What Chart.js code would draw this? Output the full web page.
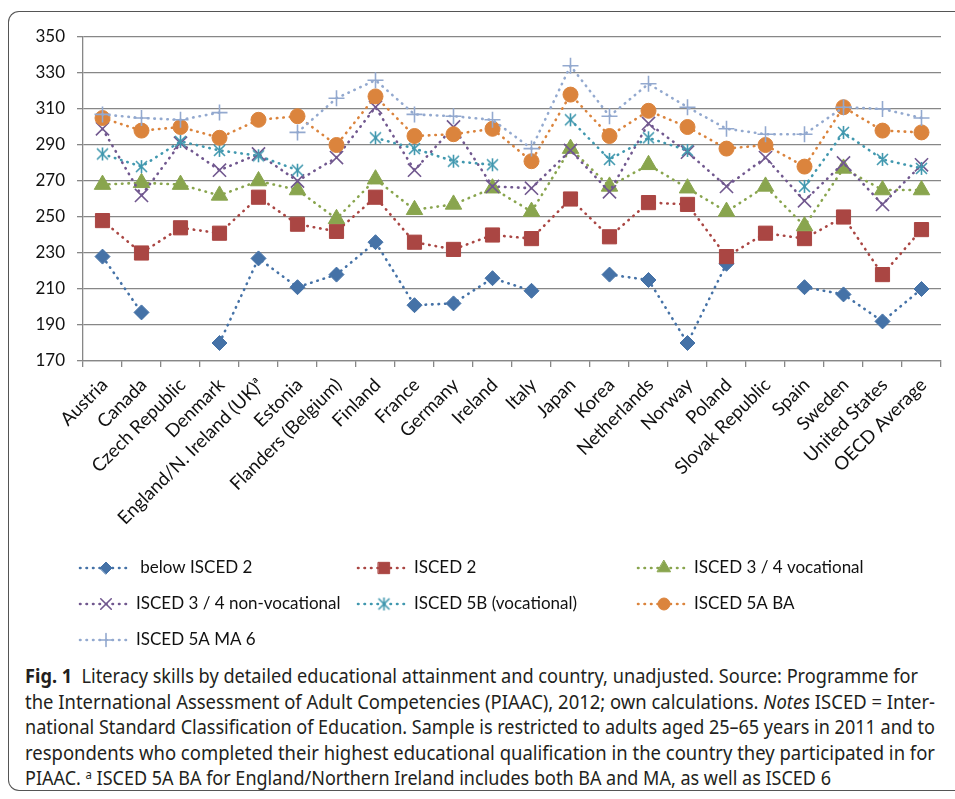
<!DOCTYPE html>
<html>
<head>
<meta charset="utf-8">
<script src="https://cdn.jsdelivr.net/npm/chart.js@4.4.1/dist/chart.umd.min.js"></script>
<style>
  html, body { margin: 0; padding: 0; background: #fff; }
  body { width: 955px; height: 799px; position: relative; overflow: hidden; }
  #frame { position: absolute; left: 8px; top: 11px; width: 1000px; height: 778px;
           border: 1.3px solid #555; border-right: none; border-radius: 11px 0 0 11px; }
  #wrap { position: absolute; left: 0; top: 0; width: 955px; height: 660px; }
  #caption { position: absolute; left: 25px; top: 664px; color: #231f20;
             font-family: "Noto Sans", "Open Sans", sans-serif; font-size: 19px; line-height: 25.5px; }
  #caption .ln { display: block; white-space: nowrap; transform-origin: 0 50%; width: max-content; }
  #caption sup { font-size: 12px; line-height: 0; vertical-align: 6px; }
</style>
</head>
<body>
<div id="frame"></div>
<div id="wrap"><canvas id="chart" width="955" height="660"></canvas></div>
<div id="caption">
  <span class="ln" data-w="893"><b>Fig. 1</b>&nbsp; Literacy skills by detailed educational attainment and country, unadjusted. Source: Programme for</span>
  <span class="ln" data-w="910">the International Assessment of Adult Competencies (PIAAC), 2012; own calculations. <i>Notes</i> ISCED = Inter-</span>
  <span class="ln" data-w="910">national Standard Classification of Education. Sample is restricted to adults aged 25–65 years in 2011 and to</span>
  <span class="ln" data-w="910">respondents who completed their highest educational qualification in the country they participated in for</span>
  <span class="ln" data-w="806">PIAAC. <sup>a</sup> ISCED 5A BA for England/Northern Ireland includes both BA and MA, as well as ISCED 6</span>
</div>
<script>
// categories and series (null = no value shown)
const countries = ['Austria', 'Canada', 'Czech Republic', 'Denmark', 'England/N. Ireland (UK)ᵃ', 'Estonia',
  'Flanders (Belgium)', 'Finland', 'France', 'Germany', 'Ireland', 'Italy', 'Japan', 'Korea', 'Netherlands',
  'Norway', 'Poland', 'Slovak Republic', 'Spain', 'Sweden', 'United States', 'OECD Average'];

const belowIsced2   = [228, 197, null, 180, 227, 211, 218, 236, 201, 202, 216, 209, null, 218, 215, 180, 224, null, 211, 207, 192, 210];
const isced2        = [248, 230, 244, 241, 261, 246, 242, 261, 236, 232, 240, 238, 260, 239, 258, 257, 228, 241, 238, 250, 218, 243];
const isced34Voc    = [268, 269, 268, 262, 270, 265, 249, 271, 254, 257, 266, 253, 288, 267, 279, 266, 253, 267, 245, 277, 265, 265];
const isced34NonVoc = [299, 262, 291, 276, 285, 270, 283, 311, 276, 300, 267, 266, 287, 264, 302, 286, 267, 283, 259, 280, 257, 279];
const isced5B       = [285, 278, 292, 287, 284, 276, null, 294, 288, 281, 279, null, 304, 282, 294, 287, null, null, 267, 297, 282, 277];
const isced5ABA     = [305, 298, 300, 294, 304, 306, 290, 317, 295, 296, 299, 281, 318, 295, 309, 300, 288, 290, 278, 311, 298, 297];
const isced5AMA6    = [307, 305, 304, 308, null, 297, 316, 326, 307, 306, 304, 288, 334, 306, 324, 311, 299, 296, 296, 311, 310, 305];

const yMin = 170, yMax = 350, yStep = 20;

const FONT = 'Lato, "Open Sans", sans-serif';
const GRID = '#878787';

// caption lines are set condensed to the widths of the printed figure
document.querySelectorAll('#caption .ln').forEach(el => {
  const w = el.getBoundingClientRect().width;
  el.style.transform = 'scaleX(' + (Number(el.dataset.w) / w) + ')';
});

// Excel's "star" marker: an X with a vertical bar
function asterisk(color) {
  const c = document.createElement('canvas');
  c.width = 15; c.height = 15;
  const g = c.getContext('2d');
  g.strokeStyle = color;
  g.lineWidth = 1.6;
  g.beginPath();
  g.moveTo(7.5, 1); g.lineTo(7.5, 14);
  g.moveTo(2, 2); g.lineTo(13, 13);
  g.moveTo(13, 2); g.lineTo(2, 13);
  g.stroke();
  return c;
}

function series(label, data, color, style, radius, bw) {
  return {
    label, data,
    borderColor: color,
    borderWidth: 2.6,
    borderDash: [0.5, 6],
    borderCapStyle: 'round',
    tension: 0,
    pointStyle: style,
    pointRadius: radius,
    pointBackgroundColor: color,
    pointBorderColor: color,
    pointBorderWidth: bw,
    fill: false
  };
}

const datasets = [
  series(' below ISCED 2', belowIsced2, '#4572A7', 'rectRot', 7.5, 1),
  series('ISCED 2', isced2, '#AA4643', 'rect', 10, 1),
  series('ISCED 3 / 4 vocational', isced34Voc, '#89A54E', 'triangle', 9.5, 1),
  series('ISCED 3 / 4 non-vocational', isced34NonVoc, '#71588F', 'crossRot', 9.3, 1.6),
  series('ISCED 5B (vocational)', isced5B, '#4198AF', asterisk('#4198AF'), 7.5, 1),
  series('ISCED 5A BA', isced5ABA, '#DB843D', 'circle', 7.5, 1),
  series('ISCED 5A MA 6', isced5AMA6, '#93A9CF', 'cross', 8, 1.6)
];
// later series sit on top, as in the original
datasets.forEach((d, i) => { d.order = datasets.length - i; });

// legend laid out as a 3-column grid under the axis
const LEGEND_X = [80, 358, 638];
const LEGEND_Y = 568, LEGEND_ROW = 36;

const gridLegend = {
  id: 'gridLegend',
  afterDraw(chart) {
    const ctx = chart.ctx;
    chart.data.datasets.forEach((ds, i) => {
      const x0 = LEGEND_X[i % 3];
      const y = LEGEND_Y + LEGEND_ROW * Math.floor(i / 3);
      ctx.save();
      ctx.strokeStyle = ds.borderColor;
      ctx.lineWidth = ds.borderWidth;
      ctx.lineCap = 'round';
      ctx.setLineDash(ds.borderDash);
      ctx.beginPath();
      ctx.moveTo(x0, y);
      ctx.lineTo(x0 + 52, y);
      ctx.stroke();
      ctx.setLineDash([]);
      ctx.fillStyle = ds.pointBackgroundColor;
      ctx.strokeStyle = ds.pointBorderColor;
      ctx.lineWidth = ds.pointBorderWidth;
      Chart.helpers.drawPoint(ctx, {
        pointStyle: ds.pointStyle, rotation: 0,
        radius: ds.pointRadius * 0.8, borderWidth: ds.pointBorderWidth
      }, x0 + 26, y);
      ctx.fillStyle = '#111';
      ctx.font = '17px ' + FONT;
      ctx.textBaseline = 'middle';
      ctx.fillText(ds.label, x0 + 56, y);
      ctx.restore();
    });
  }
};

new Chart(document.getElementById('chart'), {
  type: 'line',
  data: { labels: countries, datasets },
  plugins: [gridLegend],
  options: {
    responsive: false,
    animation: false,
    layout: { padding: { top: 37, right: 14, left: 0, bottom: 129 } },
    plugins: { legend: { display: false }, tooltip: { enabled: false } },
    scales: {
      x: {
        offset: true,
        grid: { offset: true, drawOnChartArea: false, drawTicks: true, tickLength: 6, color: GRID, lineWidth: 1.3 },
        border: { color: GRID, width: 1.3 },
        ticks: { autoSkip: false, minRotation: 45, maxRotation: 45, padding: 7, labelOffset: 2,
                 color: '#111', font: { family: FONT, size: 18.5 } },
        afterFit(scale) { scale.height = 170; }
      },
      y: {
        min: yMin, max: yMax,
        grid: { color: GRID, lineWidth: 1.3, tickLength: 6 },
        border: { color: GRID, width: 1.3 },
        ticks: { stepSize: yStep, padding: 12, color: '#111', font: { family: FONT, size: 17 } },
        afterFit(scale) { scale.width = 83; }
      }
    }
  }
});
</script>
</body>
</html>
